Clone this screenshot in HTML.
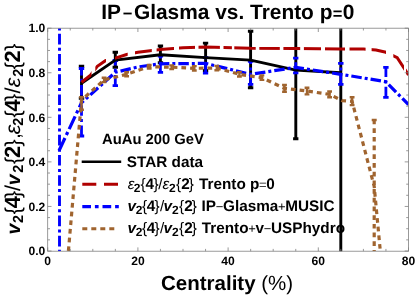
<!DOCTYPE html>
<html><head><meta charset="utf-8"><style>
html,body{margin:0;padding:0;background:#fff;}
svg{display:block;will-change:transform;font-family:"Liberation Sans",sans-serif;}
text{text-rendering:geometricPrecision;}
</style></head><body>
<svg width="415" height="296" viewBox="0 0 415 296">
<rect width="415" height="296" fill="#fff"/>
<defs><clipPath id="rc"><rect x="80.0" y="28" width="11.5" height="223"/><rect x="95.3" y="28" width="10.7" height="223"/><rect x="115.0" y="28" width="12.7" height="223"/><rect x="135.0" y="28" width="16.8" height="223"/><rect x="156.6" y="28" width="17.4" height="223"/><rect x="179.0" y="28" width="16.0" height="223"/><rect x="198.5" y="28" width="21.4" height="223"/><rect x="223.5" y="28" width="8.4" height="223"/><rect x="234.3" y="28" width="21.4" height="223"/><rect x="259.3" y="28" width="20.5" height="223"/><rect x="283.4" y="28" width="16.8" height="223"/><rect x="303.9" y="28" width="17.1" height="223"/><rect x="325.0" y="28" width="20.0" height="223"/><rect x="349.5" y="28" width="16.1" height="223"/><rect x="371.6" y="28" width="14.4" height="223"/><rect x="393.3" y="28" width="10.7" height="223"/><rect x="406.0" y="28" width="3.5" height="223"/></clipPath><clipPath id="c"><rect x="47.7" y="28.2" width="360.8" height="223.0"/></clipPath></defs>
<g clip-path="url(#c)" fill="none">
<line x1="81.5" y1="98.2" x2="81.5" y2="66.3" stroke="#000" stroke-width="2.9"/>
<line x1="78.8" y1="98.2" x2="84.2" y2="98.2" stroke="#000" stroke-width="2.9"/>
<line x1="78.8" y1="66.3" x2="84.2" y2="66.3" stroke="#000" stroke-width="2.9"/>
<line x1="115.3" y1="67.2" x2="115.3" y2="52.3" stroke="#000" stroke-width="2.9"/>
<line x1="112.6" y1="67.2" x2="118.0" y2="67.2" stroke="#000" stroke-width="2.9"/>
<line x1="112.6" y1="52.3" x2="118.0" y2="52.3" stroke="#000" stroke-width="2.9"/>
<line x1="160.4" y1="62.7" x2="160.4" y2="46.0" stroke="#000" stroke-width="2.9"/>
<line x1="157.8" y1="62.7" x2="163.1" y2="62.7" stroke="#000" stroke-width="2.9"/>
<line x1="157.8" y1="46.0" x2="163.1" y2="46.0" stroke="#000" stroke-width="2.9"/>
<line x1="205.6" y1="70.5" x2="205.6" y2="43.1" stroke="#000" stroke-width="2.9"/>
<line x1="202.9" y1="70.5" x2="208.2" y2="70.5" stroke="#000" stroke-width="2.9"/>
<line x1="202.9" y1="43.1" x2="208.2" y2="43.1" stroke="#000" stroke-width="2.9"/>
<line x1="250.6" y1="87.7" x2="250.6" y2="31.3" stroke="#000" stroke-width="2.9"/>
<line x1="247.9" y1="87.7" x2="253.3" y2="87.7" stroke="#000" stroke-width="2.9"/>
<line x1="247.9" y1="31.3" x2="253.3" y2="31.3" stroke="#000" stroke-width="2.9"/>
<line x1="295.8" y1="138.7" x2="295.8" y2="-16.4" stroke="#000" stroke-width="2.9"/>
<line x1="293.1" y1="138.7" x2="298.4" y2="138.7" stroke="#000" stroke-width="2.9"/>
<line x1="293.1" y1="-16.4" x2="298.4" y2="-16.4" stroke="#000" stroke-width="2.9"/>
<line x1="340.8" y1="295.6" x2="340.8" y2="-16.4" stroke="#000" stroke-width="2.9"/>
<line x1="338.1" y1="295.6" x2="343.5" y2="295.6" stroke="#000" stroke-width="2.9"/>
<line x1="338.1" y1="-16.4" x2="343.5" y2="-16.4" stroke="#000" stroke-width="2.9"/>
<line x1="81.5" y1="136.0" x2="81.5" y2="68.5" stroke="#0000ff" stroke-width="2.8" stroke-dasharray="10.6 3.3 3 3.3"/>
<line x1="78.8" y1="136.0" x2="84.2" y2="136.0" stroke="#0000ff" stroke-width="2.8"/>
<line x1="78.8" y1="68.5" x2="84.2" y2="68.5" stroke="#0000ff" stroke-width="2.8"/>
<line x1="115.3" y1="85.7" x2="115.3" y2="60.5" stroke="#0000ff" stroke-width="2.8" stroke-dasharray="10.6 3.3 3 3.3"/>
<line x1="112.6" y1="85.7" x2="118.0" y2="85.7" stroke="#0000ff" stroke-width="2.8"/>
<line x1="112.6" y1="60.5" x2="118.0" y2="60.5" stroke="#0000ff" stroke-width="2.8"/>
<line x1="160.4" y1="72.3" x2="160.4" y2="56.0" stroke="#0000ff" stroke-width="2.8" stroke-dasharray="10.6 3.3 3 3.3"/>
<line x1="157.8" y1="72.3" x2="163.1" y2="72.3" stroke="#0000ff" stroke-width="2.8"/>
<line x1="157.8" y1="56.0" x2="163.1" y2="56.0" stroke="#0000ff" stroke-width="2.8"/>
<line x1="205.6" y1="73.2" x2="205.6" y2="57.6" stroke="#0000ff" stroke-width="2.8" stroke-dasharray="10.6 3.3 3 3.3"/>
<line x1="202.9" y1="73.2" x2="208.2" y2="73.2" stroke="#0000ff" stroke-width="2.8"/>
<line x1="202.9" y1="57.6" x2="208.2" y2="57.6" stroke="#0000ff" stroke-width="2.8"/>
<line x1="250.6" y1="84.3" x2="250.6" y2="61.4" stroke="#0000ff" stroke-width="2.8" stroke-dasharray="10.6 3.3 3 3.3"/>
<line x1="247.9" y1="84.3" x2="253.3" y2="84.3" stroke="#0000ff" stroke-width="2.8"/>
<line x1="247.9" y1="61.4" x2="253.3" y2="61.4" stroke="#0000ff" stroke-width="2.8"/>
<line x1="295.8" y1="72.8" x2="295.8" y2="58.1" stroke="#0000ff" stroke-width="2.8" stroke-dasharray="10.6 3.3 3 3.3"/>
<line x1="293.1" y1="72.8" x2="298.4" y2="72.8" stroke="#0000ff" stroke-width="2.8"/>
<line x1="293.1" y1="58.1" x2="298.4" y2="58.1" stroke="#0000ff" stroke-width="2.8"/>
<line x1="340.8" y1="84.3" x2="340.8" y2="63.4" stroke="#0000ff" stroke-width="2.8" stroke-dasharray="10.6 3.3 3 3.3"/>
<line x1="338.1" y1="84.3" x2="343.5" y2="84.3" stroke="#0000ff" stroke-width="2.8"/>
<line x1="338.1" y1="63.4" x2="343.5" y2="63.4" stroke="#0000ff" stroke-width="2.8"/>
<line x1="385.9" y1="97.3" x2="385.9" y2="67.4" stroke="#0000ff" stroke-width="2.8" stroke-dasharray="10.6 3.3 3 3.3"/>
<line x1="383.2" y1="97.3" x2="388.6" y2="97.3" stroke="#0000ff" stroke-width="2.8"/>
<line x1="383.2" y1="67.4" x2="388.6" y2="67.4" stroke="#0000ff" stroke-width="2.8"/>
<path d="M81.5 83.2 L115.3 60.1 L160.4 54.7 L205.6 57.6 L250.6 60.1 L295.8 70.1 L340.8 72.8" stroke="#000" stroke-width="2.9" stroke-linejoin="round"/>
<path d="M81.5 82.3 L90.5 75.2 L97.3 66.3 L105.4 60.7 L115.3 58.1 L126.6 54.5 L137.9 52.3 L160.4 49.4 L183.0 47.8 L205.6 47.1 L250.6 48.3 L295.8 48.5 L340.8 48.9 L363.4 49.1 L376.0 50.0 L385.9 52.3 L397.2 57.6 L408.5 75.0" stroke="#b00000" stroke-width="3" clip-path="url(#rc)"/>
<line x1="59.5" y1="27.5" x2="59.5" y2="251.2" stroke="#0000ff" stroke-width="2.9" stroke-dasharray="3 3.3 10.6 3.3"/>
<path d="M59.0 150.7 L81.5 102.8" stroke="#0000ff" stroke-width="3.2" stroke-dasharray="14 3.3 3.3 3.3"/>
<path d="M81.5 102.8 L115.3 72.3 L137.9 67.0 L160.4 63.8 L205.6 63.4 L250.6 74.3 L295.8 67.4 L340.8 74.3 L385.9 81.7 L408.5 104.6" stroke="#0000ff" stroke-width="3.2" stroke-dasharray="10.5 3 3 3" stroke-dashoffset="7.6"/>
<path d="M68.4 251.0 L81.5 100.2 L104.1 79.9 L126.6 74.3 L149.2 66.7 L171.7 67.2 L194.3 68.3 L216.8 68.1 L239.4 74.3 L261.9 77.7 L284.5 88.4 L307.0 91.0 L329.6 94.4 L342.2 100.6 L352.1 101.3 L374.2 186.4 L380.3 251.0" stroke="#a0642f" stroke-width="3.2" stroke-dasharray="4.7 4.0"/>
<line x1="374.2" y1="119.5" x2="374.2" y2="251.2" stroke="#a0642f" stroke-width="3.2" stroke-dasharray="4.7 4.0"/>
<line x1="371.7" y1="120" x2="376.7" y2="120" stroke="#a0642f" stroke-width="2.6"/>
<line x1="81.5" y1="109.7" x2="81.5" y2="97.3" stroke="#a0642f" stroke-width="2.4"/>
<line x1="79.1" y1="109.7" x2="83.9" y2="109.7" stroke="#a0642f" stroke-width="2.4"/>
<line x1="79.1" y1="97.3" x2="83.9" y2="97.3" stroke="#a0642f" stroke-width="2.4"/>
<line x1="104.1" y1="82.1" x2="104.1" y2="77.7" stroke="#a0642f" stroke-width="2.4"/>
<line x1="101.7" y1="82.1" x2="106.5" y2="82.1" stroke="#a0642f" stroke-width="2.4"/>
<line x1="101.7" y1="77.7" x2="106.5" y2="77.7" stroke="#a0642f" stroke-width="2.4"/>
<line x1="126.6" y1="76.3" x2="126.6" y2="72.3" stroke="#a0642f" stroke-width="2.4"/>
<line x1="124.2" y1="76.3" x2="129.0" y2="76.3" stroke="#a0642f" stroke-width="2.4"/>
<line x1="124.2" y1="72.3" x2="129.0" y2="72.3" stroke="#a0642f" stroke-width="2.4"/>
<line x1="149.2" y1="68.5" x2="149.2" y2="65.0" stroke="#a0642f" stroke-width="2.4"/>
<line x1="146.8" y1="68.5" x2="151.6" y2="68.5" stroke="#a0642f" stroke-width="2.4"/>
<line x1="146.8" y1="65.0" x2="151.6" y2="65.0" stroke="#a0642f" stroke-width="2.4"/>
<line x1="171.7" y1="69.0" x2="171.7" y2="65.4" stroke="#a0642f" stroke-width="2.4"/>
<line x1="169.3" y1="69.0" x2="174.1" y2="69.0" stroke="#a0642f" stroke-width="2.4"/>
<line x1="169.3" y1="65.4" x2="174.1" y2="65.4" stroke="#a0642f" stroke-width="2.4"/>
<line x1="194.3" y1="70.5" x2="194.3" y2="66.1" stroke="#a0642f" stroke-width="2.4"/>
<line x1="191.9" y1="70.5" x2="196.7" y2="70.5" stroke="#a0642f" stroke-width="2.4"/>
<line x1="191.9" y1="66.1" x2="196.7" y2="66.1" stroke="#a0642f" stroke-width="2.4"/>
<line x1="216.8" y1="70.3" x2="216.8" y2="65.9" stroke="#a0642f" stroke-width="2.4"/>
<line x1="214.4" y1="70.3" x2="219.2" y2="70.3" stroke="#a0642f" stroke-width="2.4"/>
<line x1="214.4" y1="65.9" x2="219.2" y2="65.9" stroke="#a0642f" stroke-width="2.4"/>
<line x1="239.4" y1="76.5" x2="239.4" y2="72.1" stroke="#a0642f" stroke-width="2.4"/>
<line x1="237.0" y1="76.5" x2="241.8" y2="76.5" stroke="#a0642f" stroke-width="2.4"/>
<line x1="237.0" y1="72.1" x2="241.8" y2="72.1" stroke="#a0642f" stroke-width="2.4"/>
<line x1="261.9" y1="79.9" x2="261.9" y2="75.4" stroke="#a0642f" stroke-width="2.4"/>
<line x1="259.5" y1="79.9" x2="264.3" y2="79.9" stroke="#a0642f" stroke-width="2.4"/>
<line x1="259.5" y1="75.4" x2="264.3" y2="75.4" stroke="#a0642f" stroke-width="2.4"/>
<line x1="284.5" y1="91.7" x2="284.5" y2="85.0" stroke="#a0642f" stroke-width="2.4"/>
<line x1="282.1" y1="91.7" x2="286.9" y2="91.7" stroke="#a0642f" stroke-width="2.4"/>
<line x1="282.1" y1="85.0" x2="286.9" y2="85.0" stroke="#a0642f" stroke-width="2.4"/>
<line x1="307.0" y1="94.4" x2="307.0" y2="87.7" stroke="#a0642f" stroke-width="2.4"/>
<line x1="304.6" y1="94.4" x2="309.4" y2="94.4" stroke="#a0642f" stroke-width="2.4"/>
<line x1="304.6" y1="87.7" x2="309.4" y2="87.7" stroke="#a0642f" stroke-width="2.4"/>
<line x1="329.6" y1="97.3" x2="329.6" y2="91.5" stroke="#a0642f" stroke-width="2.4"/>
<line x1="327.2" y1="97.3" x2="332.0" y2="97.3" stroke="#a0642f" stroke-width="2.4"/>
<line x1="327.2" y1="91.5" x2="332.0" y2="91.5" stroke="#a0642f" stroke-width="2.4"/>
<line x1="352.1" y1="105.1" x2="352.1" y2="97.3" stroke="#a0642f" stroke-width="2.4"/>
<line x1="349.7" y1="105.1" x2="354.5" y2="105.1" stroke="#a0642f" stroke-width="2.4"/>
<line x1="349.7" y1="97.3" x2="354.5" y2="97.3" stroke="#a0642f" stroke-width="2.4"/>
</g>
<g stroke="#808080" stroke-width="0.8" fill="none">
<rect x="47.7" y="28.2" width="360.8" height="223.0"/>
<line x1="47.70" y1="251.2" x2="47.70" y2="247.4"/><line x1="47.70" y1="28.2" x2="47.70" y2="32.0"/><line x1="70.25" y1="251.2" x2="70.25" y2="248.9"/><line x1="70.25" y1="28.2" x2="70.25" y2="30.5"/><line x1="92.80" y1="251.2" x2="92.80" y2="248.9"/><line x1="92.80" y1="28.2" x2="92.80" y2="30.5"/><line x1="115.35" y1="251.2" x2="115.35" y2="248.9"/><line x1="115.35" y1="28.2" x2="115.35" y2="30.5"/><line x1="137.90" y1="251.2" x2="137.90" y2="247.4"/><line x1="137.90" y1="28.2" x2="137.90" y2="32.0"/><line x1="160.45" y1="251.2" x2="160.45" y2="248.9"/><line x1="160.45" y1="28.2" x2="160.45" y2="30.5"/><line x1="183.00" y1="251.2" x2="183.00" y2="248.9"/><line x1="183.00" y1="28.2" x2="183.00" y2="30.5"/><line x1="205.55" y1="251.2" x2="205.55" y2="248.9"/><line x1="205.55" y1="28.2" x2="205.55" y2="30.5"/><line x1="228.10" y1="251.2" x2="228.10" y2="247.4"/><line x1="228.10" y1="28.2" x2="228.10" y2="32.0"/><line x1="250.65" y1="251.2" x2="250.65" y2="248.9"/><line x1="250.65" y1="28.2" x2="250.65" y2="30.5"/><line x1="273.20" y1="251.2" x2="273.20" y2="248.9"/><line x1="273.20" y1="28.2" x2="273.20" y2="30.5"/><line x1="295.75" y1="251.2" x2="295.75" y2="248.9"/><line x1="295.75" y1="28.2" x2="295.75" y2="30.5"/><line x1="318.30" y1="251.2" x2="318.30" y2="247.4"/><line x1="318.30" y1="28.2" x2="318.30" y2="32.0"/><line x1="340.85" y1="251.2" x2="340.85" y2="248.9"/><line x1="340.85" y1="28.2" x2="340.85" y2="30.5"/><line x1="363.40" y1="251.2" x2="363.40" y2="248.9"/><line x1="363.40" y1="28.2" x2="363.40" y2="30.5"/><line x1="385.95" y1="251.2" x2="385.95" y2="248.9"/><line x1="385.95" y1="28.2" x2="385.95" y2="30.5"/><line x1="408.50" y1="251.2" x2="408.50" y2="247.4"/><line x1="408.50" y1="28.2" x2="408.50" y2="32.0"/><line x1="47.7" y1="251.00" x2="51.5" y2="251.00"/><line x1="408.5" y1="251.00" x2="404.7" y2="251.00"/><line x1="47.7" y1="239.86" x2="50.0" y2="239.86"/><line x1="408.5" y1="239.86" x2="406.2" y2="239.86"/><line x1="47.7" y1="228.72" x2="50.0" y2="228.72"/><line x1="408.5" y1="228.72" x2="406.2" y2="228.72"/><line x1="47.7" y1="217.58" x2="50.0" y2="217.58"/><line x1="408.5" y1="217.58" x2="406.2" y2="217.58"/><line x1="47.7" y1="206.44" x2="51.5" y2="206.44"/><line x1="408.5" y1="206.44" x2="404.7" y2="206.44"/><line x1="47.7" y1="195.30" x2="50.0" y2="195.30"/><line x1="408.5" y1="195.30" x2="406.2" y2="195.30"/><line x1="47.7" y1="184.16" x2="50.0" y2="184.16"/><line x1="408.5" y1="184.16" x2="406.2" y2="184.16"/><line x1="47.7" y1="173.02" x2="50.0" y2="173.02"/><line x1="408.5" y1="173.02" x2="406.2" y2="173.02"/><line x1="47.7" y1="161.88" x2="51.5" y2="161.88"/><line x1="408.5" y1="161.88" x2="404.7" y2="161.88"/><line x1="47.7" y1="150.74" x2="50.0" y2="150.74"/><line x1="408.5" y1="150.74" x2="406.2" y2="150.74"/><line x1="47.7" y1="139.60" x2="50.0" y2="139.60"/><line x1="408.5" y1="139.60" x2="406.2" y2="139.60"/><line x1="47.7" y1="128.46" x2="50.0" y2="128.46"/><line x1="408.5" y1="128.46" x2="406.2" y2="128.46"/><line x1="47.7" y1="117.32" x2="51.5" y2="117.32"/><line x1="408.5" y1="117.32" x2="404.7" y2="117.32"/><line x1="47.7" y1="106.18" x2="50.0" y2="106.18"/><line x1="408.5" y1="106.18" x2="406.2" y2="106.18"/><line x1="47.7" y1="95.04" x2="50.0" y2="95.04"/><line x1="408.5" y1="95.04" x2="406.2" y2="95.04"/><line x1="47.7" y1="83.90" x2="50.0" y2="83.90"/><line x1="408.5" y1="83.90" x2="406.2" y2="83.90"/><line x1="47.7" y1="72.76" x2="51.5" y2="72.76"/><line x1="408.5" y1="72.76" x2="404.7" y2="72.76"/><line x1="47.7" y1="61.62" x2="50.0" y2="61.62"/><line x1="408.5" y1="61.62" x2="406.2" y2="61.62"/><line x1="47.7" y1="50.48" x2="50.0" y2="50.48"/><line x1="408.5" y1="50.48" x2="406.2" y2="50.48"/><line x1="47.7" y1="39.34" x2="50.0" y2="39.34"/><line x1="408.5" y1="39.34" x2="406.2" y2="39.34"/><line x1="47.7" y1="28.20" x2="51.5" y2="28.20"/><line x1="408.5" y1="28.20" x2="404.7" y2="28.20"/>
</g>
<g font-weight="bold" font-size="12.1px" fill="#000"><text x="47.7" y="264.7" text-anchor="middle">0</text><text x="137.9" y="264.7" text-anchor="middle">20</text><text x="228.1" y="264.7" text-anchor="middle">40</text><text x="318.3" y="264.7" text-anchor="middle">60</text><text x="408.5" y="264.7" text-anchor="middle">80</text><text x="45.3" y="255.2" text-anchor="end">0.0</text><text x="45.3" y="210.6" text-anchor="end">0.2</text><text x="45.3" y="166.1" text-anchor="end">0.4</text><text x="45.3" y="121.5" text-anchor="end">0.6</text><text x="45.3" y="77.0" text-anchor="end">0.8</text><text x="45.3" y="32.4" text-anchor="end">1.0</text></g>
<text x="101.3" y="18.7" font-weight="bold" font-size="20.9px">IP<tspan dx="1.6" font-size="16.5px">&#8722;</tspan><tspan dx="1.6">Glasma vs. Trento p</tspan><tspan dx="0.3" font-size="16.5px">=</tspan><tspan dx="0.3">0</tspan></text>
<text x="161.0" y="290.1" font-size="20.5px"><tspan font-weight="bold">Centrality</tspan> (%)</text>
<text transform="translate(19.9,234.3) rotate(-90)"><tspan x="-0.2" y="0.0" font-size="19.5px" font-weight="bold" font-style="italic">v</tspan><tspan x="11.3" y="2.9" font-size="14.6px" font-weight="bold">2</tspan><tspan x="20.0" y="0.0" font-size="21.5px" font-weight="normal">{</tspan><tspan x="26.1" y="0.0" font-size="22px" font-weight="bold">4</tspan><tspan x="36.4" y="0.0" font-size="21.5px" font-weight="normal">}</tspan><tspan x="43.4" y="0.0" font-size="21.5px" font-weight="normal">/</tspan><tspan x="49.1" y="0.0" font-size="19.5px" font-weight="bold" font-style="italic">v</tspan><tspan x="61.6" y="2.9" font-size="14.6px" font-weight="bold">2</tspan><tspan x="70.3" y="0.0" font-size="21.5px" font-weight="normal">{</tspan><tspan x="76.4" y="0.0" font-size="22px" font-weight="bold">2</tspan><tspan x="87.7" y="0.0" font-size="21.5px" font-weight="normal">}</tspan><tspan x="95.2" y="0.0" font-size="21.5px" font-weight="normal">,</tspan><tspan x="100.1" y="0.0" font-size="21.5px" font-weight="normal" font-style="italic">&#949;</tspan><tspan x="108.6" y="2.9" font-size="14.6px" font-weight="bold">2</tspan><tspan x="116.9" y="0.0" font-size="21.5px" font-weight="normal">{</tspan><tspan x="122.8" y="0.0" font-size="22px" font-weight="bold">4</tspan><tspan x="133.4" y="0.0" font-size="21.5px" font-weight="normal">}</tspan><tspan x="140.8" y="0.0" font-size="21.5px" font-weight="normal">/</tspan><tspan x="147.0" y="0.0" font-size="21.5px" font-weight="normal" font-style="italic">&#949;</tspan><tspan x="157.5" y="2.9" font-size="14.6px" font-weight="bold">2</tspan><tspan x="165.0" y="0.0" font-size="21.5px" font-weight="normal">{</tspan><tspan x="171.8" y="0.0" font-size="22px" font-weight="bold">2</tspan><tspan x="183.6" y="0.0" font-size="21.5px" font-weight="normal">}</tspan></text>
<g font-size="15.3px" font-weight="bold">
<text x="102" y="144.4" font-size="14.8px">AuAu 200 GeV</text>
<line x1="81.7" y1="161.8" x2="121.2" y2="161.8" stroke="#000" stroke-width="2.6"/>
<text x="126.8" y="167.2" font-size="15.3px">STAR data</text>
<line x1="82.3" y1="184.3" x2="121" y2="184.3" stroke="#b00000" stroke-width="3" stroke-dasharray="14 7.7"/>
<text transform="translate(0,189.0)"><tspan x="127.7" y="0.0" font-size="15.3px" font-weight="normal" font-style="italic">&#949;</tspan><tspan x="133.8" y="2.8" font-size="12px" font-weight="bold">2</tspan><tspan x="140.6" y="0.0" font-size="15.3px" font-weight="normal">{</tspan><tspan x="145.4" y="0.0" font-size="15.3px" font-weight="bold">4</tspan><tspan x="153.6" y="0.0" font-size="15.3px" font-weight="normal">}</tspan><tspan x="158.3" y="0.0" font-size="15.3px" font-weight="normal">/</tspan><tspan x="162.6" y="0.0" font-size="15.3px" font-weight="normal" font-style="italic">&#949;</tspan><tspan x="169.0" y="2.8" font-size="12px" font-weight="bold">2</tspan><tspan x="176.0" y="0.0" font-size="15.3px" font-weight="normal">{</tspan><tspan x="181.3" y="0.0" font-size="15.3px" font-weight="bold">2</tspan><tspan x="188.8" y="0.0" font-size="15.3px" font-weight="normal">}</tspan></text><text x="199.0" y="189.0">Trento p<tspan dx="-0.3" font-weight="normal" font-size="13px">=</tspan><tspan dx="-0.3">0</tspan></text>
<line x1="82.3" y1="206.6" x2="121" y2="206.6" stroke="#0000ff" stroke-width="3.2" stroke-dasharray="8.7 3.9 3.7 3.9"/>
<text transform="translate(0,211.0)"><tspan x="127.6" y="0.0" font-size="15.3px" font-weight="bold" font-style="italic">v</tspan><tspan x="135.8" y="2.8" font-size="12px" font-weight="bold">2</tspan><tspan x="142.1" y="0.0" font-size="15.3px" font-weight="normal">{</tspan><tspan x="146.7" y="0.0" font-size="15.3px" font-weight="bold">4</tspan><tspan x="154.6" y="0.0" font-size="15.3px" font-weight="normal">}</tspan><tspan x="160.0" y="0.0" font-size="15.3px" font-weight="normal">/</tspan><tspan x="163.6" y="0.0" font-size="15.3px" font-weight="bold" font-style="italic">v</tspan><tspan x="172.0" y="2.8" font-size="12px" font-weight="bold">2</tspan><tspan x="179.1" y="0.0" font-size="15.3px" font-weight="normal">{</tspan><tspan x="184.2" y="0.0" font-size="15.3px" font-weight="bold">2</tspan><tspan x="191.8" y="0.0" font-size="15.3px" font-weight="normal">}</tspan></text><text x="201.6" y="211.0">IP<tspan dx="-0.3" font-weight="normal" font-size="13px">&#8722;</tspan><tspan dx="-0.3">Glasma</tspan><tspan dx="-0.3" font-weight="normal" font-size="13px">+</tspan><tspan dx="-0.3">MUSIC</tspan></text>
<line x1="82.3" y1="228.8" x2="115" y2="228.8" stroke="#a0642f" stroke-width="3" stroke-dasharray="5 4"/>
<text transform="translate(0,233.2)"><tspan x="127.6" y="0.0" font-size="15.3px" font-weight="bold" font-style="italic">v</tspan><tspan x="135.8" y="2.8" font-size="12px" font-weight="bold">2</tspan><tspan x="142.1" y="0.0" font-size="15.3px" font-weight="normal">{</tspan><tspan x="146.7" y="0.0" font-size="15.3px" font-weight="bold">4</tspan><tspan x="154.6" y="0.0" font-size="15.3px" font-weight="normal">}</tspan><tspan x="160.0" y="0.0" font-size="15.3px" font-weight="normal">/</tspan><tspan x="163.6" y="0.0" font-size="15.3px" font-weight="bold" font-style="italic">v</tspan><tspan x="172.0" y="2.8" font-size="12px" font-weight="bold">2</tspan><tspan x="179.1" y="0.0" font-size="15.3px" font-weight="normal">{</tspan><tspan x="184.2" y="0.0" font-size="15.3px" font-weight="bold">2</tspan><tspan x="191.8" y="0.0" font-size="15.3px" font-weight="normal">}</tspan></text><text x="201.8" y="233.2">Trento<tspan dx="-0.3" font-weight="normal" font-size="13px">+</tspan><tspan dx="-0.3">v</tspan><tspan dx="-0.3" font-weight="normal" font-size="13px">&#8722;</tspan><tspan dx="-0.3">USPhydro</tspan></text>
</g>
</svg>
</body></html>
